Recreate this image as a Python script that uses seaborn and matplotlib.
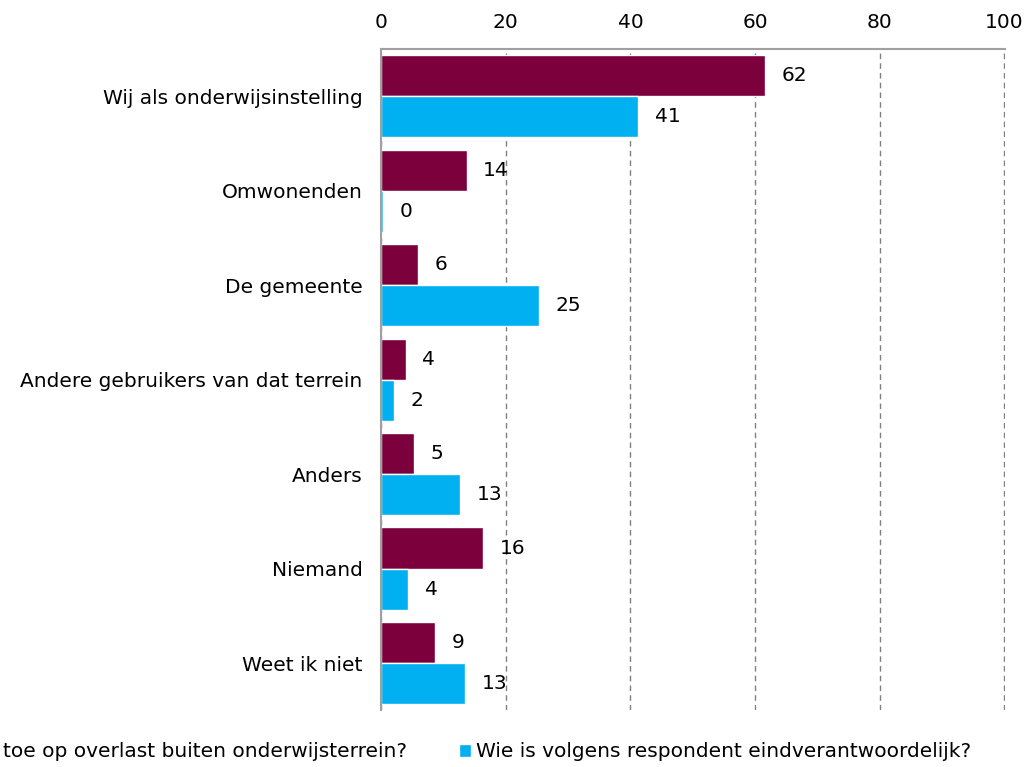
import matplotlib
matplotlib.use("Agg")
import matplotlib.pyplot as plt
import seaborn as sns
import pandas as pd

# === Data ===
categories = [
    "Wij als onderwijsinstelling",
    "Omwonenden",
    "De gemeente",
    "Andere gebruikers van dat terrein",
    "Anders",
    "Niemand",
    "Weet ik niet",
]
toezicht = [61.6, 13.7, 5.9, 3.95, 5.2, 16.4, 8.7]
eindverantwoordelijk = [41.3, 0.3, 25.3, 2.0, 12.65, 4.3, 13.45]
series_names = [
    "toe op overlast buiten onderwijsterrein?",
    "Wie is volgens respondent eindverantwoordelijk?",
]
x_ticks = [0, 20, 40, 60, 80, 100]

df = pd.DataFrame({
    "categorie": categories * 2,
    "waarde": toezicht + eindverantwoordelijk,
    "reeks": [series_names[0]] * len(categories) + [series_names[1]] * len(categories),
})

# === Plot ===
sns.set_style("white")
plt.rcParams["font.family"] = ["DejaVu Sans"]
plt.rcParams["text.color"] = "black"
plt.rcParams["xtick.color"] = "black"
plt.rcParams["ytick.color"] = "black"

FS = 14.5

fig, ax = plt.subplots(figsize=(10.33, 7.67), dpi=100)
fig.subplots_adjust(left=0.369, right=0.973, top=0.936, bottom=0.074)

sns.barplot(data=df, y="categorie", x="waarde", hue="reeks", orient="h",
            palette=["#7B003C", "#00B0F0"], saturation=1, width=0.87, ax=ax)

for c in ax.containers:
    ax.bar_label(c, fmt="%.0f", padding=12, fontsize=FS, color="black")

ax.set_xlim(0, 100.15)
ax.set_ylim(len(categories) - 0.5, -0.5)
ax.set_xticks(x_ticks)
ax.xaxis.tick_top()
ax.tick_params(axis="x", length=0, pad=12, labelsize=FS)
ax.tick_params(axis="y", length=0, pad=13.5, labelsize=FS)
ax.set_xlabel("")
ax.set_ylabel("")

ax.grid(axis="x", color="#808080", linestyle=(0, (4, 3)), linewidth=1)
ax.set_axisbelow(True)
for side in ["right", "bottom"]:
    ax.spines[side].set_visible(False)
for side in ["left", "top"]:
    ax.spines[side].set_color("#A0A0A0")
    ax.spines[side].set_linewidth(1.5)

handles, labels = ax.get_legend_handles_labels()
ax.get_legend().remove()
fig.legend(handles, labels, loc="center right", bbox_to_anchor=(0.948, 0.0196),
           ncol=2, frameon=False, fontsize=FS, handlelength=0.6, handleheight=0.6,
           handletextpad=0.25, columnspacing=2.6, borderaxespad=0)

plt.savefig("out.png", dpi=100)
